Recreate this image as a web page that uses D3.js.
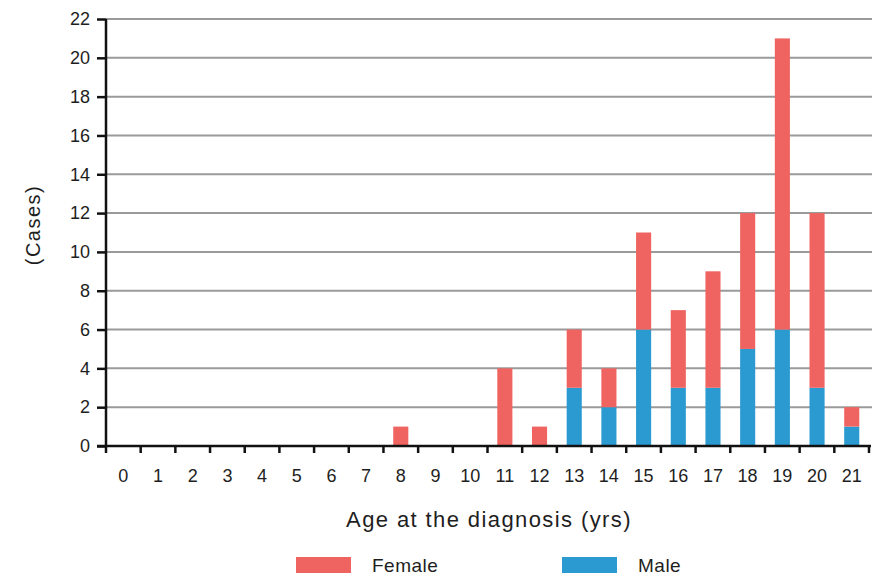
<!doctype html>
<html lang="en">
<head>
<meta charset="utf-8">
<title>Cases by age at diagnosis</title>
<script src="https://d3js.org/d3.v7.min.js"></script>
<style>
  body { margin: 0; background: #fff; }
  text { font-family: "Liberation Sans", Arial, sans-serif; fill: #1e1e1e; }
</style>
</head>
<body>
<svg id="chart" width="874" height="577"></svg>
<script>
// data
var ages   = ["0","1","2","3","4","5","6","7","8","9","10","11","12","13","14","15","16","17","18","19","20","21"];
var male   = [0,0,0,0,0,0,0,0,0,0,0,0,0,3,2,6,3,3,5,6,3,1];
var female = [0,0,0,0,0,0,0,0,1,0,0,4,1,3,2,5,4,6,7,15,9,1];
var yTicks = [0,2,4,6,8,10,12,14,16,18,20,22];

var colors = { Female: "#ef6461", Male: "#2a9ad0" };

var svg = d3.select("#chart");
var mLeft = 106, mRight = 869, mTop = 19, mBottom = 446;

var x = d3.scaleBand().domain(ages).range([mLeft, mRight]).paddingInner(0.565).paddingOuter(0.28);
var xTick = d3.scaleBand().domain(ages).range([mLeft, mRight]);
var y = d3.scaleLinear().domain([0, 22]).range([mBottom, mTop]);

// gridlines
svg.append("g").selectAll("line")
  .data(yTicks.filter(function(d) { return d > 0; }))
  .enter().append("line")
    .attr("x1", mLeft).attr("x2", 872)
    .attr("y1", function(d) { return y(d); })
    .attr("y2", function(d) { return y(d); })
    .attr("stroke", "#9a9a9a")
    .attr("stroke-width", 2);

// stacked bars: male below, female on top
var rows = ages.map(function(a, i) { return { age: a, Male: male[i], Female: female[i] }; });
var stack = d3.stack().keys(["Male", "Female"])(rows);

svg.append("g").selectAll("g")
  .data(stack)
  .enter().append("g")
    .attr("fill", function(s) { return colors[s.key]; })
  .selectAll("rect")
  .data(function(s) { return s; })
  .enter().append("rect")
    .attr("x", function(d) { return x(d.data.age); })
    .attr("width", x.bandwidth())
    .attr("y", function(d) { return y(d[1]); })
    .attr("height", function(d) { return y(d[0]) - y(d[1]); });

// y axis
var yAxis = svg.append("g")
  .attr("transform", "translate(" + mLeft + ",0)")
  .call(d3.axisLeft(y).tickValues(yTicks).tickSize(9).tickPadding(7));
yAxis.select(".domain").attr("stroke", "#111").attr("stroke-width", 2.5)
  .attr("d", "M0," + mTop + "V" + mBottom);
yAxis.selectAll(".tick line").attr("stroke", "#111").attr("stroke-width", 2.5);
yAxis.selectAll("text")
  .attr("font-size", 18)
  .style("font-family", "Liberation Sans, Arial, sans-serif")
  .attr("fill", "#1e1e1e");

// x axis
var xAxis = svg.append("g")
  .attr("transform", "translate(0," + mBottom + ")");
xAxis.append("line")
  .attr("x1", mLeft - 9).attr("x2", mRight + 2)
  .attr("stroke", "#111").attr("stroke-width", 2.5);
xAxis.selectAll(".tk")
  .data(ages.concat(["end"]))
  .enter().append("line")
    .attr("x1", function(d, i) { return mLeft + i * xTick.step(); })
    .attr("x2", function(d, i) { return mLeft + i * xTick.step(); })
    .attr("y1", 0).attr("y2", 7)
    .attr("stroke", "#111").attr("stroke-width", 2.5);
xAxis.selectAll(".lbl")
  .data(ages)
  .enter().append("text")
    .attr("x", function(d) { return xTick(d) + xTick.bandwidth() / 2; })
    .attr("y", 36)
    .attr("text-anchor", "middle")
    .attr("font-size", 18)
    .text(function(d) { return d; });

// titles
svg.append("text")
  .attr("x", 489).attr("y", 527)
  .attr("text-anchor", "middle")
  .attr("font-size", 22)
  .attr("letter-spacing", 1.4)
  .text("Age at the diagnosis  (yrs)");

svg.append("text")
  .attr("transform", "translate(40,225) rotate(-90)")
  .attr("text-anchor", "middle")
  .attr("font-size", 20)
  .attr("letter-spacing", 1.5)
  .text("(Cases)");

// legend
var legend = [["Female", 296], ["Male", 562]];
var lg = svg.append("g").selectAll("g")
  .data(legend)
  .enter().append("g")
    .attr("transform", function(d) { return "translate(" + d[1] + ",557)"; });
lg.append("rect")
  .attr("width", 55).attr("height", 16)
  .attr("fill", function(d) { return colors[d[0]]; });
lg.append("text")
  .attr("x", 76).attr("y", 15)
  .attr("font-size", 19)
  .attr("letter-spacing", 0.5)
  .text(function(d) { return d[0]; });
</script>
</body>
</html>
